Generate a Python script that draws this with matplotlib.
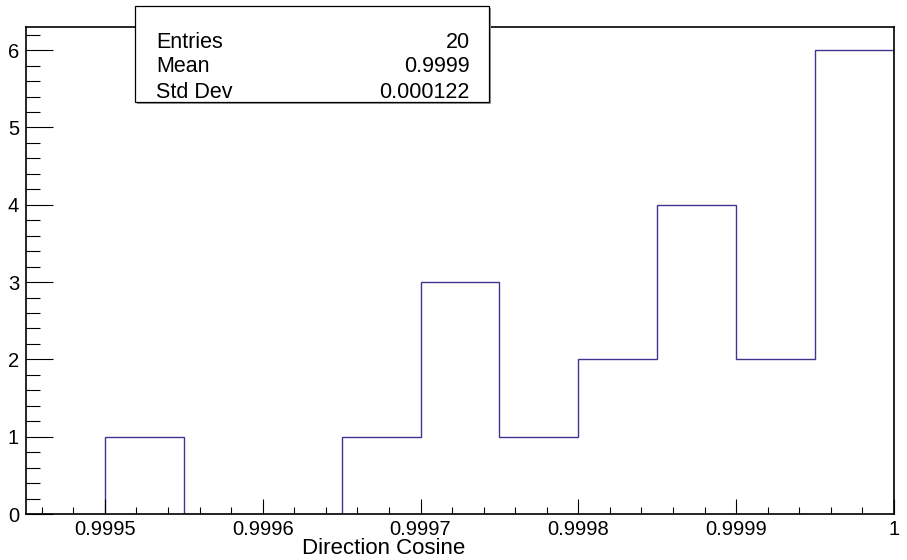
import numpy as np
import matplotlib
matplotlib.use("Agg")
import matplotlib.pyplot as plt
from matplotlib.ticker import MultipleLocator, FixedLocator
from matplotlib.patches import Rectangle

plt.rcParams['font.family'] = ['Liberation Sans', 'DejaVu Sans']

# ---- data ----
bin_lo = 0.99945
bin_width = 0.00005
counts = [0, 1, 0, 0, 1, 3, 1, 2, 4, 2, 6]
xticks = [0.9995, 0.9996, 0.9997, 0.9998, 0.9999, 1.0]
xticklabels = ["0.9995", "0.9996", "0.9997", "0.9998", "0.9999", "1"]
yticks = [0, 1, 2, 3, 4, 5, 6]
stats_names = ["Entries", "Mean", "Std Dev"]
stats_values = ["20", "0.9999", "0.000122"]
xlabel = "Direction Cosine"

edges = bin_lo + bin_width * np.arange(len(counts) + 1)

W, H = 907, 560
fig = plt.figure(figsize=(W / 100, H / 100), dpi=100)
ax = fig.add_axes([26 / W, 1 - 514 / H, (894 - 26) / W, (514 - 27) / H])

ax.stairs(counts, edges, baseline=0, color='#3f3590', linewidth=1.0, zorder=1)
ax.set_xlim(edges[0], edges[-1])
ax.set_ylim(0, max(counts) * 1.05)

ax.xaxis.set_major_locator(FixedLocator(xticks))
ax.set_xticklabels(xticklabels)
ax.xaxis.set_minor_locator(MultipleLocator(0.00002))
ax.yaxis.set_major_locator(FixedLocator(yticks))
ax.yaxis.set_minor_locator(MultipleLocator(0.2))

ax.tick_params(axis='x', which='major', direction='in', length=10.8, width=0.8,
               labelsize=14.5, pad=4.5, top=False)
ax.tick_params(axis='x', which='minor', direction='in', length=5, width=0.8, top=False)
ax.tick_params(axis='y', which='major', direction='in', length=19.5, width=0.8,
               labelsize=14.5, pad=5, right=False)
ax.tick_params(axis='y', which='minor', direction='in', length=10, width=0.8, right=False)
for s in ax.spines.values():
    s.set_linewidth(1.2)
    s.set_zorder(3)

fig.text(384 / W, 1 - 549 / H, xlabel, ha='center', va='center', fontsize=16)

# stats box
bx0, bx1, by0, by1 = 135 / W, 489 / W, 1 - 102 / H, 1 - 6 / H
fig.patches.append(Rectangle((bx0 + 2 / W, by0 - 2 / H), bx1 - bx0, by1 - by0,
                             transform=fig.transFigure, facecolor='#9a9a9a',
                             edgecolor='none', zorder=5))
fig.patches.append(Rectangle((bx0, by0), bx1 - bx0, by1 - by0,
                             transform=fig.transFigure, facecolor='white',
                             edgecolor='black', linewidth=0.9, zorder=6))
rows_y = [43, 67, 92]
for name, val, yy in zip(stats_names, stats_values, rows_y):
    fig.text(156 / W, 1 - yy / H, name, ha='left', va='center', fontsize=15.5, zorder=7)
    fig.text(470 / W, 1 - yy / H, val, ha='right', va='center', fontsize=15.5, zorder=7)

fig.savefig("out.png", dpi=100)
